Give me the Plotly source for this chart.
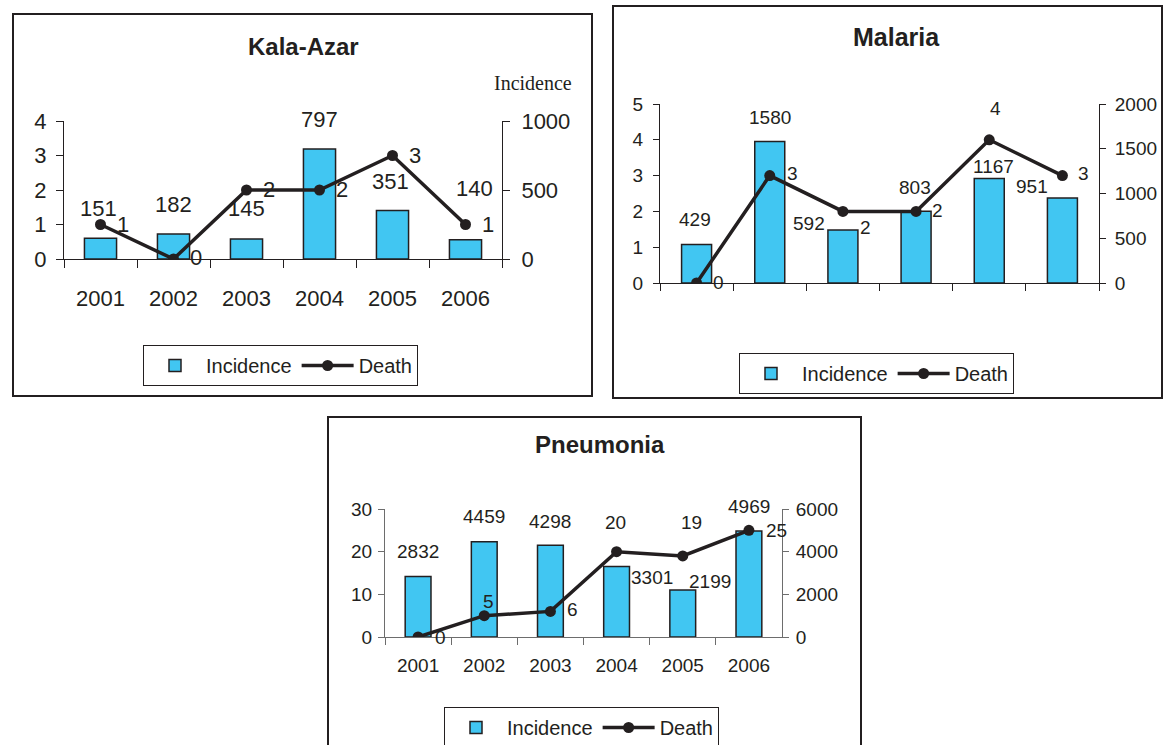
import plotly.graph_objects as go

W, H = 1164, 745

# ---------------- data ----------------
years = ["2001", "2002", "2003", "2004", "2005", "2006"]

kala_incidence = [151, 182, 145, 797, 351, 140]
kala_death = [1, 0, 2, 2, 3, 1]
kala_death_ticks = [0, 1, 2, 3, 4]
kala_inc_ticks = [0, 500, 1000]

malaria_incidence = [429, 1580, 592, 803, 1167, 951]
malaria_death = [0, 3, 2, 2, 4, 3]
malaria_death_ticks = [0, 1, 2, 3, 4, 5]
malaria_inc_ticks = [0, 500, 1000, 1500, 2000]

pneu_incidence = [2832, 4459, 4298, 3301, 2199, 4969]
pneu_death = [0, 5, 6, 20, 19, 25]
pneu_death_ticks = [0, 10, 20, 30]
pneu_inc_ticks = [0, 2000, 4000, 6000]

# ---------------- label offsets (px; +y = up) ----------------
kala_inc_off = [(-2, 30), (0, 29), (0, 30), (0, 30), (-2, 29), (9, 51)]
kala_death_off = [(22, 0), (22, 2), (22, 0), (22, 0), (22, 0), (22, 0)]
mal_inc_off = [(-2, 25), (0, 24), (-34, 7), (-1, 24), (4, 12), (-30, 11)]
mal_death_off = [(22, 0), (23, 2), (23, -16), (21, 1), (6, 31), (21, 2)]
pn_inc_off = [(0, 25), (0, 25), (0, 24), (35, -11), (27, 9), (0, 24)]
pn_death_off = [(22, 0), (4, 14), (22, 2), (-1, 29), (9, 33), (28, 0)]

# ---------------- style ----------------
INK = "#231F20"
BAR = "#41C6F2"
ARIAL = "Liberation Sans, Arial, sans-serif"
SERIF = "Liberation Serif, Times New Roman, serif"


def fx(px):
    return px / W


def fy(py):
    return 1 - py / H


fig = go.Figure()

panels = [
    dict(name="Kala-Azar", inc=kala_incidence, death=kala_death,
         dt=kala_death_ticks, it=kala_inc_ticks,
         x="x", yi="y", yd="y2", ycross="y7",
         xdom=(64, 502), ydom=(259, 121), barw=0.44,
         font=ARIAL, fs=22, showx=True, axcol=INK,
         inc_off=kala_inc_off, death_off=kala_death_off,
         legend="legend", title_xy=(303, 46), title_fs=24,
         std_l=5, std_r=7, std_x=20, tl=7),
    dict(name="Malaria", inc=malaria_incidence, death=malaria_death,
         dt=malaria_death_ticks, it=malaria_inc_ticks,
         x="x2", yi="y3", yd="y4", ycross="y8",
         xdom=(660, 1099), ydom=(283, 104), barw=0.41,
         font=ARIAL, fs=19, showx=False, axcol=INK,
         inc_off=mal_inc_off, death_off=mal_death_off,
         legend="legend2", title_xy=(896, 37), title_fs=25,
         std_l=6, std_r=5, std_x=8, tl=6),
    dict(name="Pneumonia", inc=pneu_incidence, death=pneu_death,
         dt=pneu_death_ticks, it=pneu_inc_ticks,
         x="x3", yi="y5", yd="y6", ycross="y9",
         xdom=(385, 782), ydom=(637, 509), barw=0.39,
         font=ARIAL, fs=19, showx=True, axcol="#6d6d6d",
         inc_off=pn_inc_off, death_off=pn_death_off,
         legend="legend3", title_xy=(600, 444), title_fs=24,
         std_l=2, std_r=3, std_x=11, tl=6),
]


def axname(ref):
    return ref.replace("x", "xaxis").replace("y", "yaxis")


annotations = []
layout_axes = {}

for p in panels:
    fig.add_trace(go.Bar(
        x=years, y=p["inc"], name="Incidence", xaxis=p["x"], yaxis=p["yi"],
        width=p["barw"], marker=dict(color=BAR, line=dict(color=INK, width=1.5)),
        legend=p["legend"]))
    fig.add_trace(go.Scatter(
        x=years, y=p["death"], name="Death", xaxis=p["x"], yaxis=p["yd"],
        mode="lines+markers", line=dict(color=INK, width=3.5),
        marker=dict(color=INK, size=11), legend=p["legend"]))

    tf = dict(family=p["font"], size=p["fs"], color=INK)
    common = dict(showgrid=False, zeroline=False, automargin=False,
                  fixedrange=True, tickcolor=p["axcol"])
    layout_axes[axname(p["x"])] = dict(
        domain=[fx(p["xdom"][0]), fx(p["xdom"][1])], anchor=p["yi"],
        type="category", range=[-0.5, 5.5],
        showline=True, linecolor=p["axcol"], linewidth=1,
        ticks="outside", tickson="boundaries", ticklen=p["tl"] + 1,
        showticklabels=p["showx"], tickfont=tf,
        ticklabelstandoff=p["std_x"], **common)
    layout_axes[axname(p["yi"])] = dict(
        domain=[fy(p["ydom"][0]), fy(p["ydom"][1])], anchor=p["x"],
        side="right", range=[0, p["it"][-1]], tickvals=p["it"],
        showline=True, linecolor=p["axcol"], linewidth=1,
        ticks="outside", ticklen=p["tl"],
        tickfont=tf, ticklabelstandoff=p["std_r"], **common)
    layout_axes[axname(p["ycross"])] = dict(
        overlaying=p["yi"], anchor=p["x"], side="right",
        range=[0, p["it"][-1]], tickvals=p["it"],
        showline=False, ticks="inside", ticklen=p["tl"],
        showticklabels=False, **common)
    layout_axes[axname(p["yd"])] = dict(
        overlaying=p["yi"], anchor=p["x"], side="left",
        range=[0, p["dt"][-1]], tickvals=p["dt"],
        showline=True, linecolor=p["axcol"], linewidth=1,
        ticks="outside", ticklen=p["tl"], tickfont=tf,
        ticklabelstandoff=p["std_l"], **common)

    # data labels (x given as category index on the category axis)
    for i, (v, (dx, dy)) in enumerate(zip(p["inc"], p["inc_off"])):
        annotations.append(dict(x=i, y=v, xref=p["x"], yref=p["yi"],
                                text=str(v), showarrow=False, xanchor="center",
                                yanchor="middle", xshift=dx, yshift=dy,
                                font=tf))
    for i, (v, (dx, dy)) in enumerate(zip(p["death"], p["death_off"])):
        annotations.append(dict(x=i, y=v, xref=p["x"], yref=p["yd"],
                                text=str(v), showarrow=False, xanchor="center",
                                yanchor="middle", xshift=dx, yshift=dy,
                                font=tf))
    # title
    annotations.append(dict(x=fx(p["title_xy"][0]), y=fy(p["title_xy"][1]),
                            xref="paper", yref="paper", text="<b>%s</b>" % p["name"],
                            showarrow=False, xanchor="center", yanchor="middle",
                            font=dict(family=ARIAL, size=p["title_fs"], color=INK)))

# right axis title on Kala-Azar
annotations.append(dict(x=fx(533), y=fy(83), xref="paper", yref="paper",
                        text="Incidence", showarrow=False, xanchor="center",
                        yanchor="middle", font=dict(family=SERIF, size=20, color=INK)))

# panel frames
boxes = [(13, 14, 592, 396), (613, 6, 1162, 398), (328, 417, 861, 760)]
shapes = [dict(type="rect", xref="paper", yref="paper", x0=fx(a), y0=fy(d),
               x1=fx(c), y1=fy(b), line=dict(color=INK, width=2),
               fillcolor="rgba(0,0,0,0)", layer="below") for a, b, c, d in boxes]

leg_common = dict(orientation="h", xanchor="left", yanchor="top",
                  bordercolor=INK, borderwidth=1, bgcolor="white",
                  itemwidth=52, traceorder="normal",
                  font=dict(family=ARIAL, size=20, color=INK))

fig.update_layout(
    width=W, height=H, autosize=False,
    margin=dict(l=0, r=0, t=0, b=0, pad=0, autoexpand=False),
    paper_bgcolor="white", plot_bgcolor="rgba(0,0,0,0)",
    showlegend=True,
    legend=dict(x=fx(143), y=fy(345), **leg_common),
    legend2=dict(x=fx(739), y=fy(353), **leg_common),
    legend3=dict(x=fx(444), y=fy(707), **leg_common),
    annotations=annotations, shapes=shapes,
    hovermode=False,
    **layout_axes,
)

fig.write_html("out.html", config={"displayModeBar": False},
               post_script="document.body.style.margin='0px';")
